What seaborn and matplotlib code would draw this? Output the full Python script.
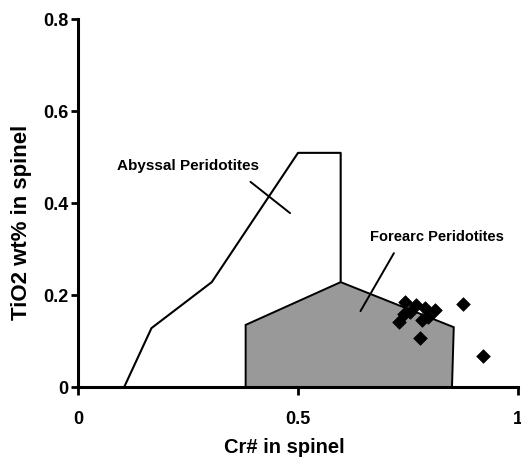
import matplotlib
matplotlib.use("Agg")
import matplotlib.pyplot as plt
import seaborn as sns
import pandas as pd

# Data
abyssal_x = [0.105, 0.167, 0.304, 0.500, 0.597, 0.597]
abyssal_y = [0.000, 0.128, 0.228, 0.509, 0.509, 0.228]

forearc_x = [0.381, 0.381, 0.597, 0.854, 0.850]
forearc_y = [0.000, 0.135, 0.228, 0.130, 0.000]

sample_x = [0.743, 0.730, 0.755, 0.741, 0.788, 0.811, 0.782, 0.795, 0.777, 0.874, 0.921, 0.768]
sample_y = [0.185, 0.141, 0.163, 0.159, 0.172, 0.167, 0.146, 0.152, 0.107, 0.180, 0.067, 0.178]

x_ticks = [0, 0.5, 1]
x_tick_labels = ["0", "0.5", "1"]
y_ticks = [0, 0.2, 0.4, 0.6, 0.8]
y_tick_labels = ["0", "0.2", "0.4", "0.6", "0.8"]

sns.set_style("ticks")
plt.rcParams['font.family'] = ['Liberation Sans', 'DejaVu Sans']
plt.rcParams['font.weight'] = 'bold'
plt.rcParams['text.color'] = 'black'
plt.rcParams['axes.labelcolor'] = 'black'
plt.rcParams['xtick.color'] = 'black'
plt.rcParams['ytick.color'] = 'black'

fig = plt.figure(figsize=(5.21, 4.59), dpi=100)
ax = fig.add_axes([78/521, 1 - 387/459, 440/521, 368/459])

# Forearc field (filled)
ax.fill(forearc_x, forearc_y, facecolor="#999999", edgecolor="black", linewidth=1.4, clip_on=False, zorder=2)

# Abyssal field (open outline)
abyssal_df = pd.DataFrame({"x": abyssal_x, "y": abyssal_y})
sns.lineplot(data=abyssal_df, x="x", y="y", sort=False, estimator=None, color="black", linewidth=1.5, ax=ax, zorder=3)
for ln in ax.lines:
    ln.set_clip_on(False)

# Samples
samples_df = pd.DataFrame({"x": sample_x, "y": sample_y})
sns.scatterplot(data=samples_df, x="x", y="y", marker="D", s=48, color="black", edgecolor="black", linewidth=0.5, ax=ax, zorder=4)

# Leader lines and labels
ax.plot([0.392, 0.482], [0.446, 0.378], color="black", linewidth=1.4, zorder=3)
ax.plot([0.718, 0.642], [0.291, 0.165], color="black", linewidth=1.4, zorder=3)
ax.text(0.25, 0.48, "Abyssal Peridotites", ha="center", va="center", fontsize=11, fontweight="bold", color="black")
ax.text(0.815, 0.326, "Forearc Peridotites", ha="center", va="center", fontsize=10.5, fontweight="bold", color="black")

ax.set_xlim(0, 1)
ax.set_ylim(0, 0.8)
ax.set_xticks(x_ticks)
ax.set_xticklabels(x_tick_labels)
ax.set_yticks(y_ticks)
ax.set_yticklabels(y_tick_labels)
ax.tick_params(axis="x", direction="out", length=6, width=2, pad=11, labelsize=13, colors="black")
ax.tick_params(axis="y", direction="out", length=5, width=2, pad=2, labelsize=13, colors="black")
for lbl in ax.get_xticklabels() + ax.get_yticklabels():
    lbl.set_fontweight("bold")

sns.despine(ax=ax)
for sp in ["left", "bottom"]:
    ax.spines[sp].set_linewidth(2.2)
    ax.spines[sp].set_color("black")

ax.set_xlabel("Cr# in spinel", fontsize=14.5, fontweight="bold", color="black")
ax.set_ylabel("TiO2 wt% in spinel", fontsize=16, fontweight="bold", color="black")
ax.xaxis.set_label_coords(0.468, -0.139)
ax.yaxis.set_label_coords(-0.105, 0.448)

fig.savefig("out.png", dpi=100)
